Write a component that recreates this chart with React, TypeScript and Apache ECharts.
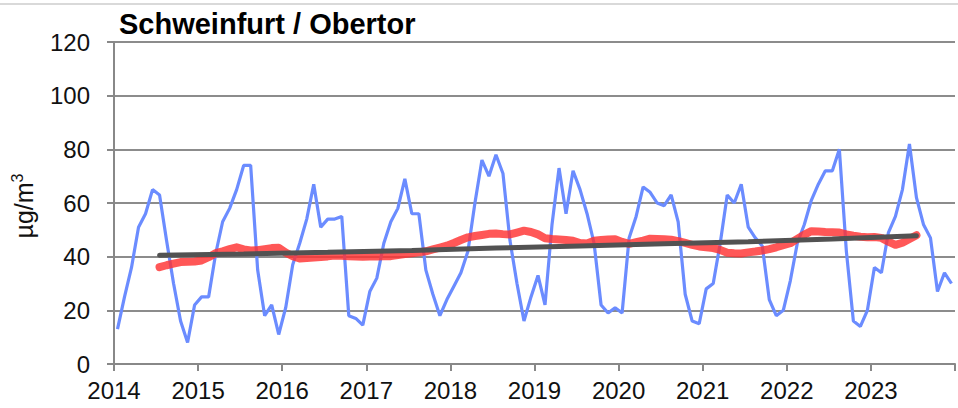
import React, { useEffect, useRef } from "react";
import * as echarts from "echarts";

const title = "Schweinfurt / Obertor";
const unitBase = "µg/m";
const unitSup = "3";
const years = [2014, 2015, 2016, 2017, 2018, 2019, 2020, 2021, 2022, 2023];

// Monthly mean values (Jan..Dec) per year
const monthly2014 = [13, 25, 36, 51, 56, 65, 63, 46, 30, 16, 8, 22];
const monthly2015 = [25, 25, 41, 53, 58, 65, 74, 74, 35, 18, 22, 11];
const monthly2016 = [21, 37, 45, 54, 67, 51, 54, 54, 55, 18, 17, 14.5];
const monthly2017 = [27, 32, 45, 53, 58, 69, 56, 56, 35, 26, 18, 24];
const monthly2018 = [29, 34, 42, 60, 76, 70, 78, 71, 46, 30, 16, 25];
const monthly2019 = [33, 22, 52, 73, 56, 72, 65, 56, 45, 22, 19, 21];
const monthly2020 = [19, 47, 55, 66, 64, 60, 59, 63, 53, 26, 16, 15];
const monthly2021 = [28, 30, 45, 63, 60, 67, 51, 47, 44, 24, 18, 20];
const monthly2022 = [31, 45, 52, 61, 67, 72, 72, 80, 42, 16, 14, 20];
const monthly2023 = [36, 34, 49, 55, 65, 82, 62, 52, 47, 27, 34, 30];
const monthlyByYear = [
  monthly2014, monthly2015, monthly2016, monthly2017, monthly2018,
  monthly2019, monthly2020, monthly2021, monthly2022, monthly2023,
];

// 12-month running mean, starting July 2014, monthly
const runningMeanStart = { year: 2014, month: 6 };
const runningMean = [
  36.1, 36.8, 37.4, 38.0, 38.1, 38.2,
  38.6, 39.8, 41.3, 42.0, 42.8, 43.5, 42.7, 42.3, 42.4, 42.8, 43.2, 43.3,
  41.5, 40.2, 39.3, 39.5, 39.7, 39.9, 40.1, 40.4, 40.3, 40.2, 40.1, 40.0,
  40.1, 40.1, 40.2, 40.2, 40.6, 41.0, 41.3, 41.6, 42.0, 42.7, 43.4, 44.1,
  45.1, 46.2, 47.2, 47.7, 48.1, 48.5, 48.6, 48.4, 48.3, 49.0, 49.7, 49.2,
  48.3, 46.9, 46.6, 46.4, 46.2, 45.9, 45.1, 44.9, 45.9, 46.2, 46.4, 46.5,
  45.5, 44.8, 45.4, 46.0, 46.7, 46.6, 46.5, 46.3, 45.8, 45.1, 44.4, 43.8,
  43.5, 43.2, 42.5, 41.5, 41.3, 41.2, 41.6, 41.9, 42.3, 42.8, 43.5, 44.3,
  45.0, 46.6, 48.2, 49.5, 49.4, 49.2, 49.1, 49.0, 48.3, 47.8, 47.4, 47.2,
  47.3, 47.0, 45.6, 44.4, 45.2, 46.6, 48.0,
];

// Trend line values (at July of each year)
const trendValues = [40.5, 41.0, 41.6, 42.3, 43.2, 44.0, 44.8, 45.6, 46.6, 47.8];

const monthPos = (year: number, month: number) => year + (month + 0.5) / 12;

export default function App() {
  const ref = useRef<HTMLDivElement>(null);
  useEffect(() => {
    if (!ref.current) return;
    const chart = echarts.init(ref.current, null, { renderer: "svg" });

    const blueData: [number, number][] = [];
    years.forEach((y, i) => {
      monthlyByYear[i].forEach((v, m) => blueData.push([monthPos(y, m), v]));
    });
    const redData: [number, number][] = runningMean.map((v, k) => {
      const total = runningMeanStart.month + k;
      return [monthPos(runningMeanStart.year + Math.floor(total / 12), total % 12), v];
    });
    const grayData: [number, number][] = trendValues.map((v, i) => [monthPos(years[i], 6), v]);

    const font = "'Liberation Sans', Arial, sans-serif";
    chart.setOption({
      animation: false,
      backgroundColor: "#ffffff",
      grid: { left: 114, top: 42, width: 849, height: 322, containLabel: false },
      xAxis: {
        type: "value",
        min: 2014,
        max: 2024,
        interval: 1,
        axisLine: { show: true, onZero: false, lineStyle: { color: "#888888", width: 2 } },
        axisTick: { show: true, length: 7, lineStyle: { color: "#888888", width: 2 } },
        axisLabel: {
          margin: 14,
          fontSize: 24,
          fontFamily: font,
          color: "#111111",
          formatter: (v: number) => (v >= 2024 ? "" : String(v)),
        },
        splitLine: { show: false },
      },
      yAxis: {
        type: "value",
        min: 0,
        max: 120,
        interval: 20,
        axisLine: { show: true, lineStyle: { color: "#888888", width: 2 } },
        axisTick: { show: true, length: 7, lineStyle: { color: "#888888", width: 2 } },
        axisLabel: { margin: 24, fontSize: 24, fontFamily: font, color: "#111111" },
        splitLine: { show: true, lineStyle: { color: "#8c8c8c", width: 2 } },
      },
      graphic: [
        { type: "line", shape: { x1: 0, y1: 4, x2: 958, y2: 4 }, style: { stroke: "#cccccc", lineWidth: 1.5 } },
        {
          type: "text",
          left: 119,
          top: 9,
          style: { text: title, fontSize: 29, fontWeight: "bold", fontFamily: font, fill: "#000000" },
        },
        {
          type: "text",
          x: 24,
          y: 206,
          rotation: Math.PI / 2,
          style: {
            text: unitBase + "{sup|" + unitSup + "}",
            fontSize: 25,
            fontFamily: font,
            fill: "#111111",
            textAlign: "center",
            textVerticalAlign: "middle",
            rich: {
              sup: { fontSize: 16, fontFamily: font, fill: "#111111", verticalAlign: "bottom", padding: [0, 0, 14, 0] },
            },
          },
        },
      ],
      series: [
        {
          type: "line",
          data: blueData,
          showSymbol: false,
          lineStyle: { color: "#6b8cff", width: 3.2 },
          z: 2,
        },
        {
          type: "line",
          data: redData,
          showSymbol: false,
          lineStyle: { color: "rgba(255,50,50,0.82)", width: 8, cap: "round", join: "round" },
          z: 3,
        },
        {
          type: "line",
          data: grayData,
          showSymbol: false,
          lineStyle: { color: "#525252", width: 5, cap: "round" },
          z: 4,
        },
      ],
    });
    return () => chart.dispose();
  }, []);
  return (
    <div
      ref={ref}
      style={{ position: "absolute", left: 0, top: 0, width: 958, height: 408, overflow: "hidden" }}
    />
  );
}
